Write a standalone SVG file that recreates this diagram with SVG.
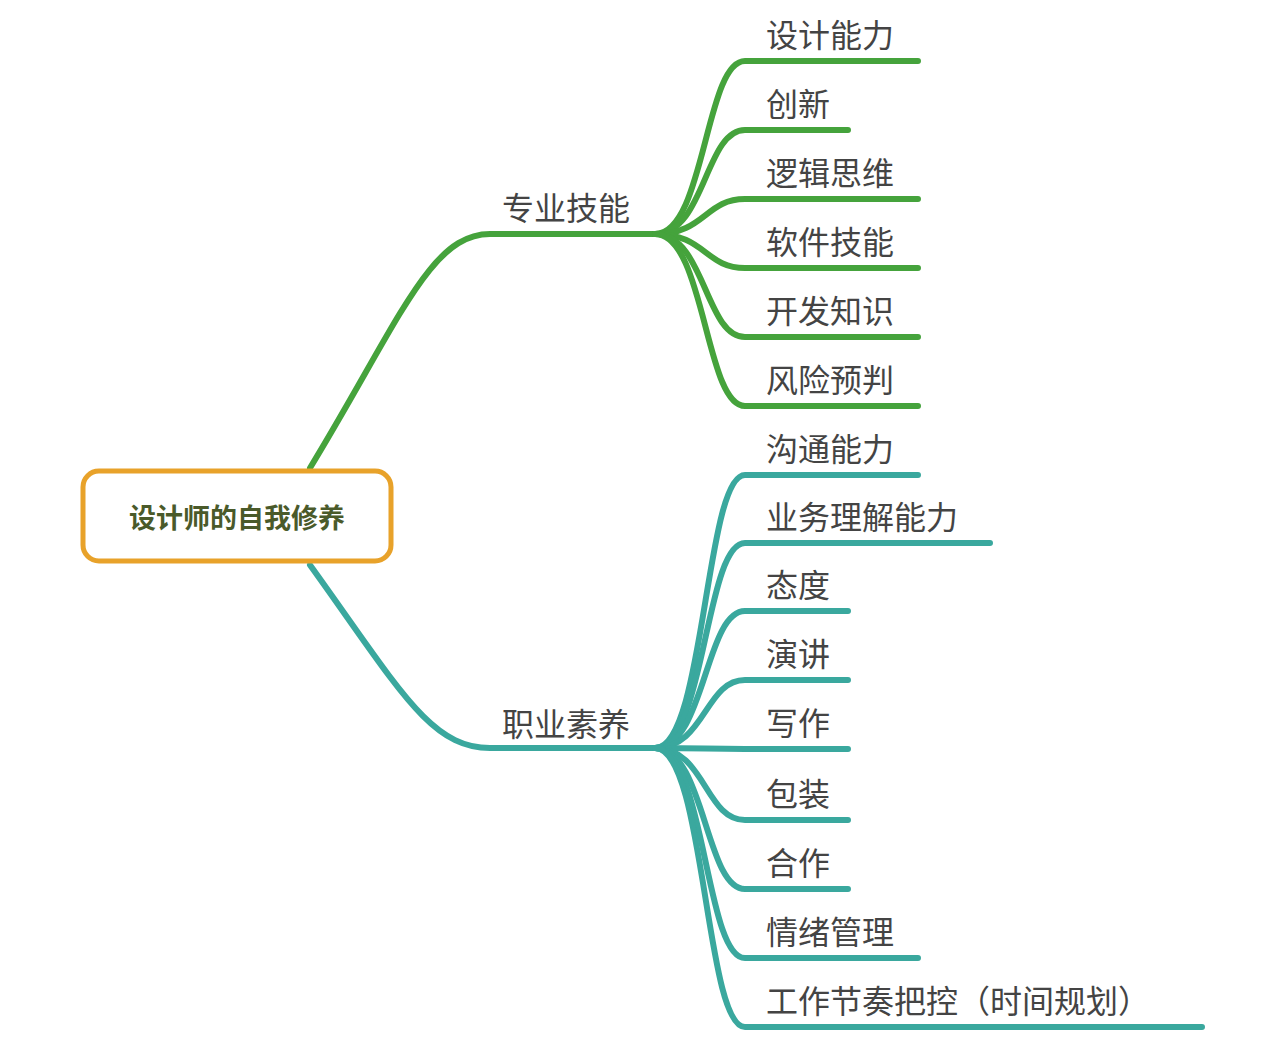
<svg xmlns="http://www.w3.org/2000/svg" width="1264" height="1060" viewBox="0 0 1264 1060">
<style>
.g{fill:none;stroke:#45A33C;stroke-width:6;stroke-linecap:round}
.t{fill:none;stroke:#3AA89E;stroke-width:6;stroke-linecap:round}
text{font-family:"Noto Sans CJK SC",sans-serif;font-size:32px;fill:#444}
</style>
<rect width="1264" height="1060" fill="#fff"/>
<g id="connectors">
<path class="g" d="M310,468 C400,320 430,234 490,234 L655,234"/>
<path class="t" d="M310,565 C400,690 430,748 490,748 L655,748"/>
<path class="g" d="M655,234 C705,234 705,61 745,61 L918,61"/>
<path class="g" d="M655,234 C705,234 705,130 745,130 L848,130"/>
<path class="g" d="M655,234 C705,234 705,199 745,199 L918,199"/>
<path class="g" d="M655,234 C705,234 705,268 745,268 L918,268"/>
<path class="g" d="M655,234 C705,234 705,337 745,337 L918,337"/>
<path class="g" d="M655,234 C705,234 705,406 745,406 L918,406"/>
<path class="t" d="M655,748 C705,748 705,475 745,475 L918,475"/>
<path class="t" d="M655,748 C705,748 705,543 745,543 L990,543"/>
<path class="t" d="M655,748 C705,748 705,611 745,611 L848,611"/>
<path class="t" d="M655,748 C705,748 705,680 745,680 L848,680"/>
<path class="t" d="M655,748 C705,748 705,749 745,749 L848,749"/>
<path class="t" d="M655,748 C705,748 705,820 745,820 L848,820"/>
<path class="t" d="M655,748 C705,748 705,889 745,889 L848,889"/>
<path class="t" d="M655,748 C705,748 705,958 745,958 L918,958"/>
<path class="t" d="M655,748 C705,748 705,1027 745,1027 L1202,1027"/>
</g>
<g id="root"><rect x="83" y="471" width="308" height="90" rx="16" fill="#fff" stroke="#E8A22A" stroke-width="5"/>
<text x="237" y="528" text-anchor="middle" style="font-size:27px;font-weight:bold;fill:#4A5A2A">设计师的自我修养</text></g>
<g id="b1"><text x="502" y="220">专业技能</text></g>
<g id="b2"><text x="502" y="736">职业素养</text></g>
<g id="n1"><text x="766" y="47">设计能力</text></g>
<g id="n2"><text x="766" y="116">创新</text></g>
<g id="n3"><text x="766" y="185">逻辑思维</text></g>
<g id="n4"><text x="766" y="254">软件技能</text></g>
<g id="n5"><text x="766" y="323">开发知识</text></g>
<g id="n6"><text x="766" y="392">风险预判</text></g>
<g id="m1"><text x="766" y="461">沟通能力</text></g>
<g id="m2"><text x="766" y="529">业务理解能力</text></g>
<g id="m3"><text x="766" y="597">态度</text></g>
<g id="m4"><text x="766" y="666">演讲</text></g>
<g id="m5"><text x="766" y="735">写作</text></g>
<g id="m6"><text x="766" y="806">包装</text></g>
<g id="m7"><text x="766" y="875">合作</text></g>
<g id="m8"><text x="766" y="944">情绪管理</text></g>
<g id="m9"><text x="766" y="1013">工作节奏把控（时间规划）</text></g>
</svg>
